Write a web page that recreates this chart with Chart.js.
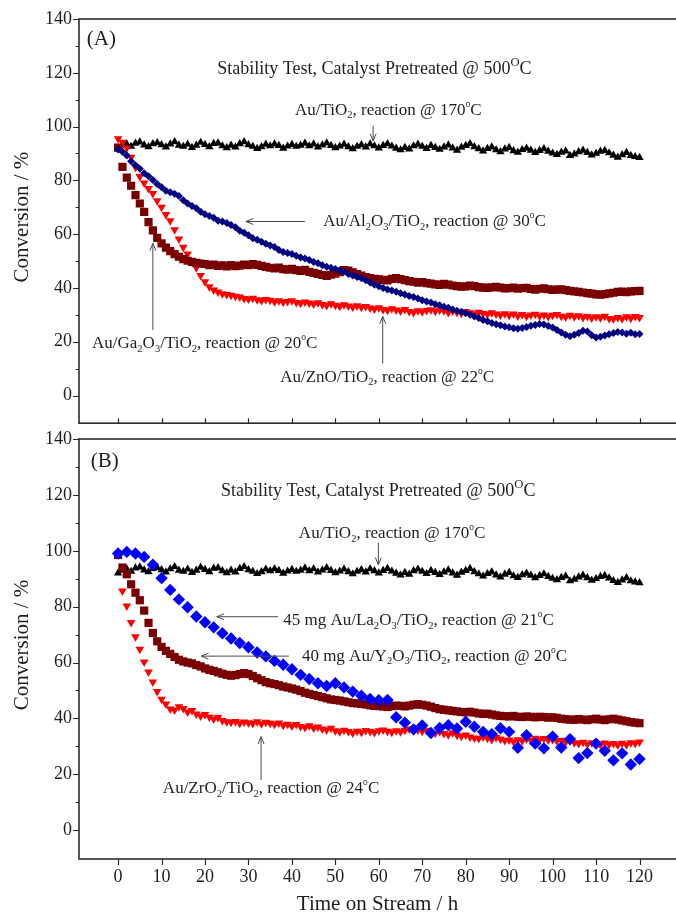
<!DOCTYPE html>
<html>
<head>
<meta charset="utf-8">
<title>Stability Test, Catalyst Pretreated @ 500 °C</title>
<script src="https://cdn.jsdelivr.net/npm/chart.js@4.4.1/dist/chart.umd.min.js"></script>
<style>
  html, body { margin: 0; padding: 0; background: #fff; }
  #wrap { position: relative; width: 676px; height: 913px; overflow: hidden; background: #fff; }
  canvas { position: absolute; left: 0; }
  #panelA { top: 0; width: 676px; height: 441px; }
  #panelB { top: 400px; width: 676px; height: 513px; }
</style>
</head>
<body>
<div id="wrap">
  <canvas id="panelA" width="676" height="441"></canvas>
  <canvas id="panelB" width="676" height="513"></canvas>
</div>
<script>
// ---- axes ----
const yTickValues = [0, 20, 40, 60, 80, 100, 120, 140];
const yMinorValues = [10, 30, 50, 70, 90, 110, 130];
const xTickValues = [0, 10, 20, 30, 40, 50, 60, 70, 80, 90, 100, 110, 120];

// ---- sampling times (h) ----
const hoursHourly = Array.from({ length: 121 }, (_, i) => i);          // 0 .. 120
const hoursFromOne = Array.from({ length: 120 }, (_, i) => i + 1);     // 1 .. 120
const hoursEveryTwo = Array.from({ length: 61 }, (_, i) => i * 2);     // 0, 2 .. 120

// ---- Au/TiO2, reaction @ 170 °C (same reference run in both panels) ----
const auTiO2 = [
  92.0, 93.0, 93.5, 92.6, 93.8, 94.2, 93.1, 92.5, 93.6, 94.0,
  93.2, 92.4, 93.5, 94.3, 93.0, 92.6, 93.4, 92.2, 93.0, 94.1,
  93.3, 92.5, 93.7, 93.9, 92.8, 92.1, 93.0, 92.4, 93.6, 94.3,
  93.2, 92.6, 91.8, 92.5, 93.4, 92.8, 93.5, 92.9, 91.9, 92.7,
  93.3, 92.6, 93.0, 93.8, 92.8, 93.5, 92.4, 93.1, 93.9, 92.9,
  92.1, 92.7, 93.4, 92.5, 91.7, 92.6, 93.2, 92.4, 93.5, 92.8,
  92.0, 92.9, 93.6, 92.7, 91.9, 91.3, 92.2, 91.6, 92.8, 93.4,
  92.6, 91.8, 92.9, 92.2, 91.5, 92.4, 93.1, 92.0, 91.2, 92.3,
  92.9, 93.6, 92.5, 91.7, 90.9, 91.8, 92.4, 91.3, 90.6, 91.6,
  92.2, 91.0, 90.4, 91.4, 91.9, 91.2, 90.3, 91.1, 91.7, 90.8,
  90.1, 89.6, 90.4, 90.9, 89.2, 89.8, 90.6, 91.2, 90.3, 89.4,
  90.0, 90.8, 91.1, 90.2, 89.3, 88.6, 89.5, 90.3, 89.2, 88.8,
  88.5
];

// ---- panel (A) ----
const auAl2O3 = [
  91.5, 90.6, 89.2, 87.1, 85.6, 84.3, 82.6, 81.5, 80.1, 78.6,
  77.4, 76.1, 75.6, 75.0, 74.2, 72.6, 71.4, 70.5, 69.6, 68.3,
  67.4, 66.7, 66.1, 65.0, 64.7, 64.1, 63.4, 62.6, 61.3, 60.5,
  59.6, 58.5, 57.9, 57.2, 56.4, 55.8, 55.2, 54.1, 53.4, 53.0,
  52.6, 52.0, 51.3, 50.9, 50.4, 49.6, 49.2, 48.4, 47.9, 47.5,
  47.0, 46.6, 46.1, 45.2, 44.6, 44.1, 43.6, 42.9, 42.0, 41.2,
  40.6, 40.0, 39.4, 39.0, 38.6, 38.0, 37.6, 37.0, 36.6, 36.1,
  35.4, 35.0, 34.6, 33.9, 33.6, 33.0, 32.6, 32.0, 31.5, 31.1,
  30.6, 30.0, 29.4, 28.8, 28.1, 27.6, 27.0, 26.5, 26.1, 25.7,
  25.4, 25.0, 24.8, 25.1, 25.5, 25.9, 26.2, 26.6, 26.4, 25.8,
  25.3, 24.4, 23.4, 22.6, 22.0, 22.6, 23.2, 24.1, 23.8, 22.4,
  21.6, 21.8, 22.3, 22.8, 23.2, 23.6, 23.4, 23.0, 23.3, 22.8,
  22.9
];
const auGa2O3 = [
  92.2, 85.0, 81.0, 78.0, 74.5, 71.4, 68.3, 64.5, 61.4, 58.6,
  56.6, 55.0, 53.7, 52.6, 51.6, 50.7, 50.1, 49.7, 49.3, 49.0,
  48.9, 48.5, 48.7, 48.2, 48.4, 48.0, 48.5, 48.1, 48.3, 48.7,
  48.5, 48.9, 48.6, 48.2, 47.8, 47.5, 47.3, 47.6, 47.0, 46.8,
  47.1, 46.6, 46.3, 46.7, 46.0, 45.6, 45.2, 44.8, 44.5, 44.9,
  45.3, 45.9, 46.6, 46.4, 45.8, 45.1, 44.6, 44.0, 43.7, 43.4,
  43.2, 43.0, 42.8, 43.4, 43.7, 43.3, 42.9, 42.5, 42.3, 42.0,
  42.2, 41.8, 41.6, 41.3, 41.1, 41.5, 41.2, 40.9, 40.7, 40.5,
  40.6, 40.9, 40.7, 40.3, 40.1, 40.0, 40.2, 40.4, 40.1, 39.8,
  39.9, 40.1, 39.7, 39.9, 40.0, 39.6, 39.4, 39.7, 39.8, 39.5,
  39.3, 39.4, 39.5, 39.2, 38.9, 38.7, 38.5, 38.3, 38.1, 37.9,
  37.6, 37.5, 37.7, 38.0, 38.2, 38.5, 38.6, 38.4, 38.7, 38.8,
  38.9
];
const auZnO = [
  95.5, 94.2, 92.0, 88.6, 84.9, 81.4, 79.0, 77.0, 75.1, 72.4,
  70.0, 67.3, 65.0, 61.6, 58.2, 55.1, 52.6, 49.8, 47.5, 44.6,
  42.3, 40.4, 39.2, 38.5, 37.8, 37.6, 37.3, 36.9, 36.6, 36.1,
  35.9, 36.2, 35.6, 35.3, 35.7, 35.4, 34.9, 35.2, 34.7, 35.0,
  35.2, 34.6, 34.3, 34.8, 34.4, 34.0, 34.5, 33.8, 33.5, 34.1,
  33.6, 33.2, 33.7, 33.3, 32.9, 33.4, 32.8, 33.1, 32.5, 32.2,
  32.6, 32.0, 31.7, 32.3, 31.8, 31.4, 32.0, 31.2, 30.9, 31.5,
  31.1, 31.6, 31.9, 31.3, 31.8, 31.5, 30.9, 31.4, 31.0, 30.6,
  31.2, 30.8, 30.4, 31.0, 30.5, 30.2, 30.8, 30.3, 29.9, 30.4,
  29.8, 30.3, 29.6, 30.1, 29.5, 29.9, 30.2, 29.6, 29.9, 29.4,
  29.8, 30.1, 29.5, 29.2, 29.8, 29.3, 29.7, 29.0, 29.4, 28.8,
  29.3, 28.9, 29.5, 28.6, 28.4, 29.0, 28.5, 29.3, 28.7, 29.4,
  29.0
];

// ---- panel (B) ----
const auLa2O3 = [
  99.0, 99.6, 99.0, 97.8, 95.0, 90.2, 86.0, 82.6, 79.8, 76.5,
  74.4, 72.6, 70.5, 68.6, 67.0, 65.5, 63.6, 62.2, 60.6, 59.2,
  57.6, 55.6, 54.1, 52.6, 51.6, 52.6, 51.1, 49.6, 48.1, 47.0,
  46.5, 46.6, 40.4, 38.5, 36.1, 37.5, 34.8, 36.6, 37.6, 36.4,
  38.8, 37.0, 35.2, 34.4, 36.5, 35.2, 29.5, 34.0, 31.0, 29.3,
  33.5, 29.6, 32.6, 25.8, 27.6, 31.0, 28.4, 25.0, 27.5, 23.5,
  25.5
];
const auY2O3 = [
  98.5, 94.0, 91.6, 88.0, 85.0, 82.3, 78.6, 74.2, 70.6, 67.6,
  65.6, 64.2, 63.1, 62.0, 61.0, 60.4, 60.0, 59.7, 59.1, 58.6,
  57.9, 57.4, 57.0, 56.5, 56.0, 55.6, 55.3, 55.5, 55.9, 56.2,
  55.9, 55.2, 54.4, 53.7, 53.0, 52.6, 52.3, 51.9, 51.4, 51.1,
  50.7, 50.3, 49.8, 49.2, 48.8, 48.4, 48.0, 47.6, 47.2, 46.8,
  46.6, 46.4, 46.1, 45.8, 45.5, 45.4, 45.2, 45.0, 44.7, 44.5,
  44.4, 44.3, 44.1, 44.4, 44.6, 44.5, 44.3, 44.6, 44.9, 45.1,
  44.9, 44.6, 44.2, 43.7, 43.3, 43.1, 42.9, 42.7, 42.5, 42.3,
  42.2, 42.4, 42.1, 41.8, 41.6, 41.7, 41.4, 41.1, 40.9, 40.8,
  40.7, 40.9, 40.6, 40.5, 40.7, 40.6, 40.4, 40.6, 40.5, 40.3,
  40.4, 40.2, 39.9, 39.7, 39.6, 39.5, 39.8, 39.6, 39.4, 39.7,
  39.9, 39.6, 39.4, 39.7, 39.9, 39.6, 39.3, 39.0, 38.7, 38.5,
  38.3
];
const auZrO2 = [
  85.6, 80.2, 74.3, 69.2, 64.8, 60.2, 56.6, 53.0, 49.6, 46.9,
  45.2, 43.4, 43.0, 44.2, 43.6, 42.3, 42.8, 41.6, 40.9, 41.4,
  40.5, 39.8, 40.3, 39.3, 38.8, 38.6, 38.9, 38.3, 38.7, 38.5,
  38.2, 38.8, 38.1, 38.6, 38.3, 37.9, 38.4, 37.6, 37.9, 37.3,
  37.8, 37.1, 36.8, 37.4, 36.6, 36.9, 36.2, 35.9, 36.5, 35.6,
  35.2, 35.8, 35.3, 34.8, 35.4, 35.1, 35.7, 35.3, 35.0, 35.6,
  35.9, 35.4, 35.1, 35.6, 35.2, 35.8, 36.2, 36.4, 35.9, 35.4,
  35.8, 35.1, 34.7, 35.3, 34.6, 34.2, 34.9, 34.0, 33.6, 34.1,
  33.4, 33.0, 32.8, 33.4, 32.9, 32.5, 33.2, 32.6, 32.1, 32.3,
  31.7, 32.4, 32.0, 32.6, 32.2, 32.9, 32.4, 32.8, 32.3, 32.5,
  31.9, 32.2, 31.6, 31.9, 31.3, 31.0, 31.5, 30.8, 31.3, 31.0,
  30.6, 31.2, 30.7, 31.0, 30.5, 31.1, 30.6, 31.3, 31.0, 31.6
];

// ---- text placed in data coordinates ----
const notesA = [
  { text: '(A)', x: -7.2, y: 130.3, size: 21 },
  { text: 'Stability Test, Catalyst Pretreated @ 500^{O}C', x: 22.8, y: 119.6, size: 18 },
  { text: 'Au/TiO_{2}, reaction @ 170^{o}C', x: 40.7, y: 104.4, size: 17 },
  { text: 'Au/Al_{2}O_{3}/TiO_{2}, reaction @ 30^{o}C', x: 47.2, y: 62.9, size: 17 },
  { text: 'Au/Ga_{2}O_{3}/TiO_{2}, reaction @ 20^{o}C', x: -6.0, y: 17.6, size: 17 },
  { text: 'Au/ZnO/TiO_{2}, reaction @ 22^{o}C', x: 37.3, y: 5.1, size: 17 }
];
const arrowsA = [
  { from: [58.7, 100.3], to: [58.7, 94.6] },
  { from: [43.0, 64.7], to: [29.4, 64.7] },
  { from: [8.0, 24.4], to: [8.0, 56.6] },
  { from: [60.9, 11.9], to: [60.9, 29.4] }
];
const notesB = [
  { text: '(B)', x: -6.3, y: 130.1, size: 21 },
  { text: 'Stability Test, Catalyst Pretreated @ 500^{O}C', x: 23.7, y: 119.6, size: 18 },
  { text: 'Au/TiO_{2}, reaction @ 170^{o}C', x: 41.6, y: 104.4, size: 17 },
  { text: '45 mg Au/La_{2}O_{3}/TiO_{2}, reaction @ 21^{o}C', x: 38.0, y: 73.4, size: 17 },
  { text: '40 mg Au/Y_{2}O_{3}/TiO_{2}, reaction @ 20^{o}C', x: 42.3, y: 60.6, size: 17 },
  { text: 'Au/ZrO_{2}/TiO_{2}, reaction @ 24^{o}C', x: 10.3, y: 13.3, size: 17 }
];
const arrowsB = [
  { from: [59.9, 102.9], to: [59.9, 94.9] },
  { from: [36.8, 76.4], to: [22.7, 76.4] },
  { from: [39.3, 62.3], to: [19.1, 62.3] },
  { from: [32.9, 18.0], to: [32.9, 33.5] }
];

const SERIF = '"Liberation Serif", "Times New Roman", serif';
const INK = '#1e1e1e';
const FRAME = '#2b2b2b';

const toPoints = (hours, values) => values.map((v, i) => ({ x: hours[i], y: v }));

function series(label, hours, values, color, style, radius, rotation) {
  return {
    label,
    data: toPoints(hours, values),
    showLine: false,
    pointStyle: style,
    pointRotation: rotation || 0,
    pointRadius: radius,
    pointHoverRadius: radius,
    pointBackgroundColor: color,
    pointBorderColor: color,
    pointBorderWidth: 0
  };
}

// text with _{sub} and ^{sup} runs
function drawRich(ctx, str, x, y, size) {
  const parts = [];
  const re = /([_^])\{([^}]*)\}/g;
  let last = 0, m;
  while ((m = re.exec(str))) {
    if (m.index > last) parts.push({ t: str.slice(last, m.index), k: '' });
    parts.push({ t: m[2], k: m[1] });
    last = re.lastIndex;
  }
  if (last < str.length) parts.push({ t: str.slice(last), k: '' });
  let cx = x;
  for (const p of parts) {
    let fs = size, dy = 0;
    if (p.k === '_') { fs = size * 0.62; dy = size * 0.21; }
    else if (p.k === '^') {
      if (p.t === 'O') { fs = size * 0.7; dy = -size * 0.45; }
      else { fs = size * 0.56; dy = -size * 0.47; }
    }
    ctx.font = fs + 'px ' + SERIF;
    ctx.fillText(p.t, cx, y + dy);
    cx += ctx.measureText(p.t).width;
  }
}

function drawArrow(ctx, x1, y1, x2, y2) {
  const ang = Math.atan2(y2 - y1, x2 - x1);
  const len = 8, spread = 0.38;
  ctx.beginPath();
  ctx.moveTo(x1, y1);
  ctx.lineTo(x2, y2);
  ctx.moveTo(x2 - len * Math.cos(ang - spread), y2 - len * Math.sin(ang - spread));
  ctx.lineTo(x2, y2);
  ctx.lineTo(x2 - len * Math.cos(ang + spread), y2 - len * Math.sin(ang + spread));
  ctx.stroke();
}

// frame, tick marks, axis titles and notes of one panel
const panelDecor = {
  id: 'panelDecor',
  afterDraw(chart, args, opts) {
    const { ctx, chartArea: a, scales: { x, y } } = chart;
    ctx.save();
    ctx.strokeStyle = FRAME;
    ctx.lineWidth = 1.6;
    ctx.strokeRect(a.left, a.top, a.right - a.left + 4, a.bottom - a.top);

    ctx.lineWidth = 1.2;
    ctx.beginPath();
    yTickValues.forEach(v => {
      const py = Math.round(y.getPixelForValue(v)) + 0.5;
      ctx.moveTo(a.left - 6, py); ctx.lineTo(a.left, py);
    });
    yMinorValues.forEach(v => {
      const py = Math.round(y.getPixelForValue(v)) + 0.5;
      ctx.moveTo(a.left - 3.5, py); ctx.lineTo(a.left, py);
    });
    if (opts.xTicks) {
      xTickValues.forEach(v => {
        const px = Math.round(x.getPixelForValue(v)) + 0.5;
        if (opts.xTicks === 'inside') { ctx.moveTo(px, a.bottom); ctx.lineTo(px, a.bottom - 5); }
        else { ctx.moveTo(px, a.bottom); ctx.lineTo(px, a.bottom + 6); }
      });
    }
    ctx.stroke();

    // y axis title
    ctx.fillStyle = INK;
    ctx.font = '21px ' + SERIF;
    ctx.save();
    ctx.translate(28, (a.top + a.bottom) / 2 - 4);
    ctx.rotate(-Math.PI / 2);
    ctx.textAlign = 'center';
    ctx.textBaseline = 'alphabetic';
    ctx.fillText('Conversion / %', 0, 0);
    ctx.restore();

    if (opts.xTitle) {
      ctx.font = '21px ' + SERIF;
      ctx.textAlign = 'center';
      ctx.textBaseline = 'alphabetic';
      ctx.fillText(opts.xTitle, (a.left + a.right) / 2, a.bottom + 51);
    }

    // notes
    ctx.textAlign = 'left';
    ctx.textBaseline = 'alphabetic';
    ctx.fillStyle = INK;
    (opts.notes || []).forEach(n => {
      drawRich(ctx, n.text, x.getPixelForValue(n.x), y.getPixelForValue(n.y), n.size);
    });
    ctx.strokeStyle = '#4a4a4a';
    ctx.lineWidth = 1;
    (opts.arrows || []).forEach(ar => {
      drawArrow(ctx,
        x.getPixelForValue(ar.from[0]), y.getPixelForValue(ar.from[1]),
        x.getPixelForValue(ar.to[0]), y.getPixelForValue(ar.to[1]));
    });
    ctx.restore();
  }
};

function yScale() {
  return {
    type: 'linear',
    min: -10.3,
    max: 140,
    afterBuildTicks: s => { s.ticks = yTickValues.map(v => ({ value: v })); },
    afterFit: s => { s.width = 79; },
    grid: { display: false, drawTicks: false },
    border: { display: false },
    ticks: { padding: 7, color: INK, font: { family: SERIF, size: 18 } }
  };
}

const common = {
  responsive: false,
  animation: false,
  devicePixelRatio: 1,
  events: []
};

new Chart(document.getElementById('panelA'), {
  type: 'scatter',
  data: {
    datasets: [
      series('Au/Al2O3/TiO2, reaction @ 30°C', hoursHourly, auAl2O3, '#000080', 'rectRot', 4),
      series('Au/Ga2O3/TiO2, reaction @ 20°C', hoursHourly, auGa2O3, '#7a0000', 'rect', 5.8),
      series('Au/ZnO/TiO2, reaction @ 22°C', hoursHourly, auZnO, '#ff0000', 'triangle', 5, 180),
      series('Au/TiO2, reaction @ 170°C', hoursHourly, auTiO2, '#000000', 'triangle', 4.8)
    ]
  },
  options: Object.assign({}, common, {
    layout: { autoPadding: false, padding: { top: 19, bottom: 2, left: 0, right: 0 } },
    plugins: {
      legend: { display: false },
      tooltip: { enabled: false },
      panelDecor: { notes: notesA, arrows: arrowsA, xTicks: 'inside' }
    },
    scales: {
      x: { type: 'linear', min: -9, max: 128.4, display: false },
      y: yScale()
    }
  }),
  plugins: [panelDecor]
});

new Chart(document.getElementById('panelB'), {
  type: 'scatter',
  data: {
    datasets: [
      series('45 mg Au/La2O3/TiO2, reaction @ 21°C', hoursEveryTwo, auLa2O3, '#0000ff', 'rectRot', 6.2),
      series('40 mg Au/Y2O3/TiO2, reaction @ 20°C', hoursHourly, auY2O3, '#7a0000', 'rect', 5.8),
      series('Au/ZrO2/TiO2, reaction @ 24°C', hoursFromOne, auZrO2, '#ff0000', 'triangle', 5, 180),
      series('Au/TiO2, reaction @ 170°C', hoursHourly, auTiO2, '#000000', 'triangle', 4.8)
    ]
  },
  options: Object.assign({}, common, {
    layout: { autoPadding: false, padding: { top: 39, bottom: 0, left: 0, right: 0 } },
    plugins: {
      legend: { display: false },
      tooltip: { enabled: false },
      panelDecor: { notes: notesB, arrows: arrowsB, xTicks: 'outside', xTitle: 'Time on Stream / h' }
    },
    scales: {
      x: {
        type: 'linear', min: -9, max: 128.4,
        afterBuildTicks: s => { s.ticks = xTickValues.map(v => ({ value: v })); },
        afterFit: s => { s.height = 54; },
        grid: { display: false, drawTicks: false },
        border: { display: false },
        ticks: { padding: 7, color: INK, font: { family: SERIF, size: 18 }, maxRotation: 0, autoSkip: false }
      },
      y: yScale()
    }
  }),
  plugins: [panelDecor]
});
</script>
</body>
</html>
